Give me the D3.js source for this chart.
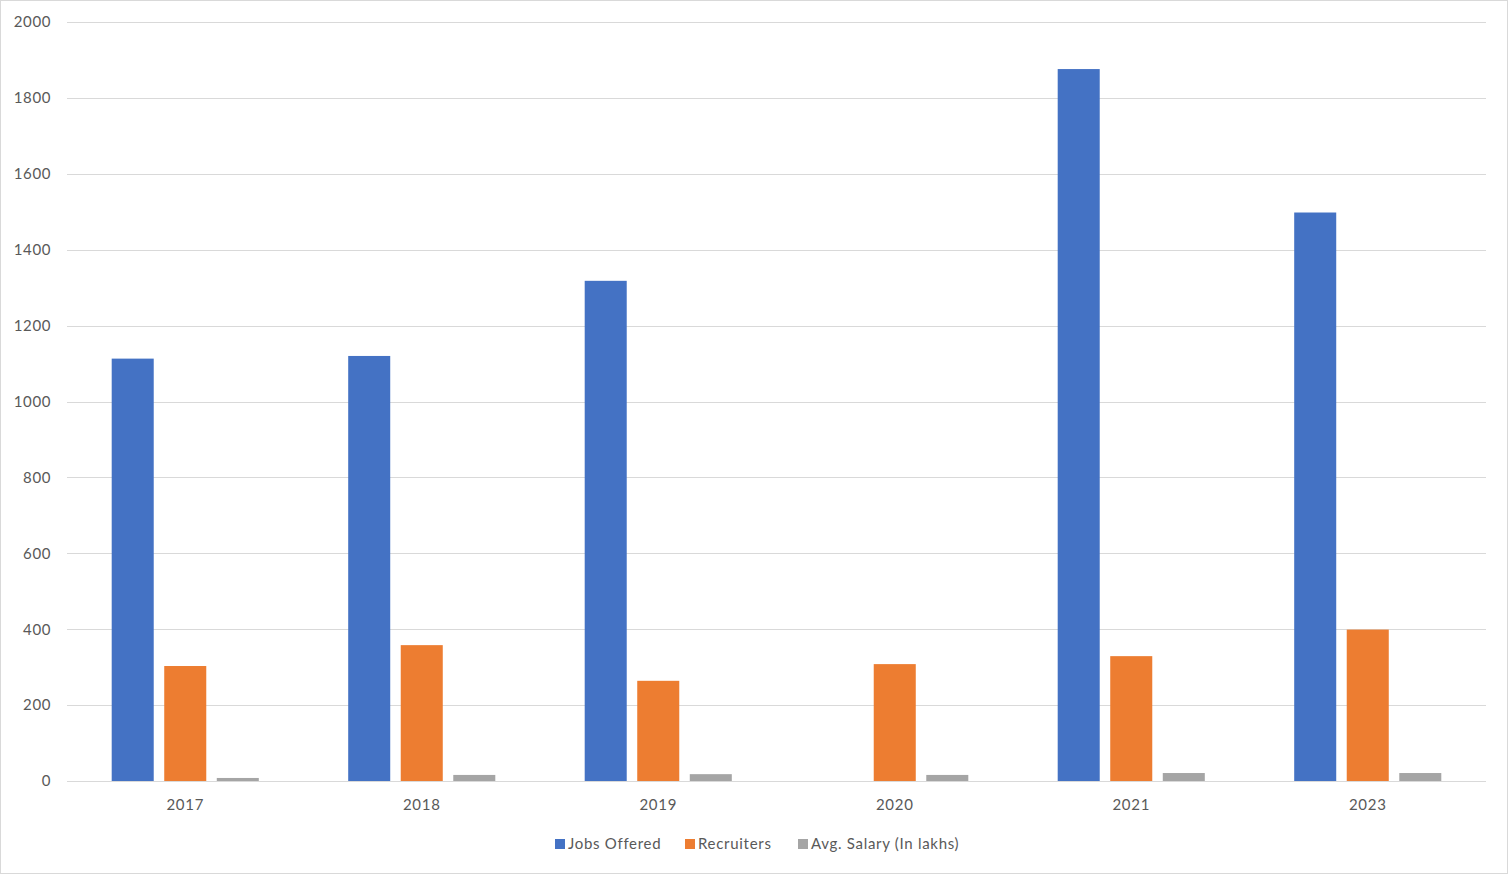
<!DOCTYPE html>
<html><head><meta charset="utf-8">
<script src="https://cdn.jsdelivr.net/npm/d3@7"></script>
<style>body{margin:0;background:#fff}svg{display:block}</style>
</head><body>
<script>
const categories = ["2017","2018","2019","2020","2021","2023"];
const seriesNames = ["Jobs Offered","Recruiters","Avg. Salary (In lakhs)"];
const jobsOffered = [1113, 1120, 1318, null, 1876, 1498];
const recruiters = [303, 358, 264, 308, 329, 399];
const avgSalary = [8, 16, 18, 16, 21, 21];
const yTicks = [0,200,400,600,800,1000,1200,1400,1600,1800,2000];
const colors = ["#4472c4","#ed7d31","#a5a5a5"];

(function(){
const seriesValues = [jobsOffered, recruiters, avgSalary];
const W = 1510, H = 876;
const svg = d3.select("body").append("svg").attr("width", W).attr("height", H);
const font = "Lato, 'Open Sans', sans-serif";

svg.append("rect").attr("x",0.5).attr("y",0.5).attr("width",1507).attr("height",873)
  .attr("fill","#fff").attr("stroke","#d9d9d9");

const pL = 67, pR = 1486, pT = 22, pB = 781;
const y = d3.scaleLinear().domain([0,2000]).range([pB, pT]);
const x0 = d3.scaleBand().domain(categories).range([pL, pR]).paddingInner(0.378).paddingOuter(0.189);
const x1 = d3.scaleBand().domain(seriesNames).range([0, x0.bandwidth()]).paddingInner(0.2);

svg.append("g").selectAll("line").data(yTicks).join("line")
  .attr("x1", pL).attr("x2", pR)
  .attr("y1", d => Math.round(y(d)) + 0.5).attr("y2", d => Math.round(y(d)) + 0.5)
  .attr("stroke", "#d9d9d9").attr("stroke-width", 1);

const yAxis = d3.axisLeft(y).tickValues(yTicks).tickFormat(d3.format("d")).tickSize(0).tickPadding(0);
const ya = svg.append("g").attr("transform", `translate(51,0)`).call(yAxis);
ya.select(".domain").remove();
ya.selectAll("text").attr("font-family", font).attr("font-size", 15).attr("fill", "#595959")
  .attr("letter-spacing", 0.6);

seriesNames.forEach((s, si) => {
  svg.append("g").selectAll("rect")
    .data(categories.map((c, i) => ({c, v: seriesValues[si][i]})).filter(d => d.v != null))
    .join("rect")
    .attr("x", d => x0(d.c) + x1(s))
    .attr("width", x1.bandwidth())
    .attr("y", d => y(d.v))
    .attr("height", d => y(0) - y(d.v))
    .attr("fill", colors[si]);
});

svg.append("line").attr("x1", pL).attr("x2", pR)
  .attr("y1", Math.round(y(0)) + 0.5).attr("y2", Math.round(y(0)) + 0.5)
  .attr("stroke", "#d9d9d9").attr("stroke-width", 1);

const xAxis = d3.axisBottom(x0).tickSize(0).tickPadding(0);
const xa = svg.append("g").attr("transform", `translate(0,${pB + 18})`).call(xAxis);
xa.select(".domain").remove();
xa.selectAll("text").attr("font-family", font).attr("font-size", 15).attr("fill", "#595959")
  .attr("dy", "0.71em").attr("letter-spacing", 0.7);

const legendX = [555, 685, 798];
const lg = svg.append("g");
seriesNames.forEach((s, i) => {
  lg.append("rect").attr("x", legendX[i]).attr("y", 839).attr("width", 10).attr("height", 10).attr("fill", colors[i]);
  lg.append("text").attr("x", legendX[i] + 13).attr("y", 844).attr("dy", "0.35em")
    .attr("font-family", font).attr("font-size", 15).attr("fill", "#595959")
    .attr("letter-spacing", 0.7).text(s);
});
})();
</script>
</body></html>
